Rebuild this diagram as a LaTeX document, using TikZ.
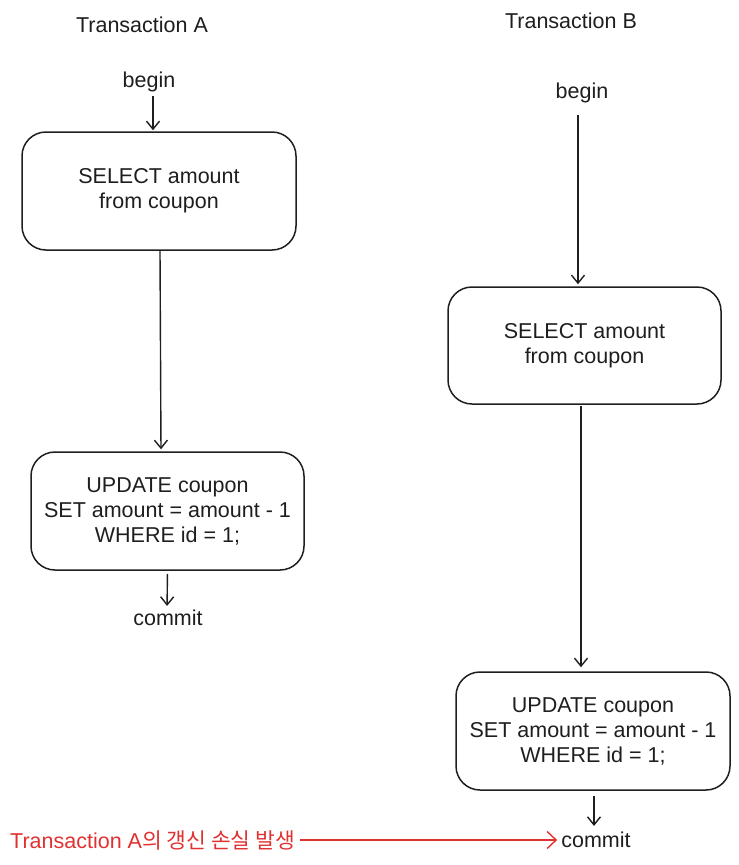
\documentclass[tikz,border=0pt]{standalone}
\usepackage{fontspec}
\setmainfont{Liberation Sans}
\newfontfamily\kr{Noto Sans CJK KR}
\usetikzlibrary{arrows.meta}
\definecolor{ink}{HTML}{1E1E1E}
\definecolor{exred}{HTML}{E03131}
\begin{document}
\begin{tikzpicture}[x=1pt,y=-1pt,
  every node/.style={font=\fontsize{21.5}{25}\selectfont, text=ink},
  qbox/.style={draw=ink, line width=1.5pt, rounded corners=24pt, align=center, inner sep=0pt},
  lbl/.style={inner sep=0pt},
  conn/.style={draw=ink, line width=1.4pt, -{Straight Barb[length=8pt,width=13pt,line width=1.4pt]}},
  redconn/.style={draw=exred, line width=1.4pt, -{Straight Barb[length=9pt,width=17pt,line width=1.4pt]}}]
\useasboundingbox (0,0) rectangle (739,865);

% Transaction A
\node[lbl] (titleA) at (142,25) {Transaction A};
\node[lbl] (beginA) at (149,82) {begin};
\node[qbox, minimum width=274pt, minimum height=118pt] (A1) at (159,191) {SELECT amount\\from coupon};
\node[qbox, minimum width=273pt, minimum height=118pt] (A2) at (167.5,511) {UPDATE coupon\\SET amount = amount - 1\\WHERE id = 1;};
\node[lbl] (commitA) at (168,618) {commit};

% Transaction B
\node[lbl] (titleB) at (571,21) {Transaction B};
\node[lbl] (beginB) at (582,93) {begin};
\node[qbox, minimum width=273pt, minimum height=117pt] (B1) at (584.5,345.5) {SELECT amount\\from coupon};
\node[qbox, minimum width=274pt, minimum height=118pt] (B2) at (593,731) {UPDATE coupon\\SET amount = amount - 1\\WHERE id = 1;};
\node[lbl] (commitB) at (596,840) {commit};

% red note
\node[lbl, anchor=west, text=exred] (lost) at (10,840) {Transaction A{\kr 의 갱신 손실 발생}};

% connectors
\draw[conn, shorten <=4pt, shorten >=1pt] ([xshift=4pt]beginA.south) -- ([xshift=-6pt]A1.north);
\draw[conn, shorten >=2pt] ([xshift=1pt]A1.south) -- ([xshift=-6.5pt]A2.north);
\draw[conn, shorten <=3pt, shorten >=4pt] (A2.south) -- ([xshift=-1pt]commitA.north);
\draw[conn, shorten <=12pt, shorten >=2pt] ([xshift=-4pt]beginB.south) -- ([xshift=-6.5pt]B1.north);
\draw[conn, shorten <=1pt, shorten >=4pt] ([xshift=-3.5pt]B1.south) -- ([xshift=-12pt]B2.north);
\draw[conn, shorten <=5pt, shorten >=6pt] ([xshift=1pt]B2.south) -- ([xshift=-2pt]commitB.north);
\draw[redconn, shorten <=5pt, shorten >=4pt] (lost.east) -- (commitB.west);
\end{tikzpicture}
\end{document}
